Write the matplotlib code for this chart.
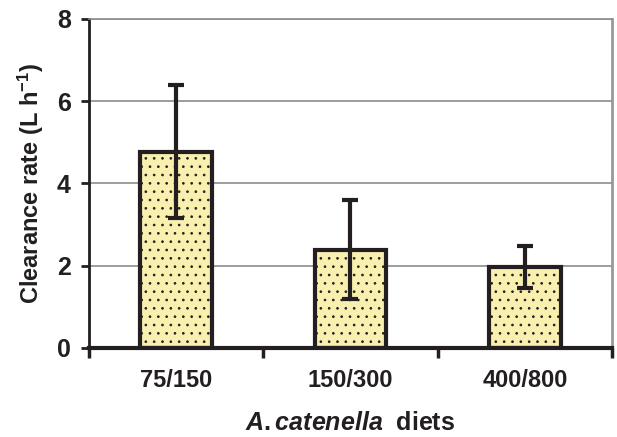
import matplotlib
matplotlib.use('Agg')
import matplotlib.pyplot as plt

categories = ['75/150', '150/300', '400/800']
clearance = [4.77, 2.39, 1.97]
errors = [1.61, 1.21, 0.51]
y_ticks = [0, 2, 4, 6, 8]

plt.rcParams['font.family'] = ['Liberation Sans', 'DejaVu Sans']
plt.rcParams['mathtext.fontset'] = 'custom'
plt.rcParams['mathtext.rm'] = 'Liberation Sans:bold'
plt.rcParams['mathtext.it'] = 'Liberation Sans:italic:bold'
plt.rcParams['mathtext.bf'] = 'Liberation Sans:bold'
plt.rcParams['hatch.color'] = '#9a9a88'
plt.rcParams['hatch.linewidth'] = 0.7

dark = '#231f20'
fig = plt.figure(figsize=(6.17, 4.37), dpi=100)
ax = fig.add_axes([0.144, 0.204, 0.848, 0.753])

x = list(range(len(categories)))
ax.bar(x, clearance, width=0.41, color='#f9f0b0', edgecolor=dark, linewidth=3,
       hatch='..', zorder=3)
ax.errorbar(x, clearance, yerr=errors, fmt='none', ecolor=dark, elinewidth=3,
            capsize=5.8, capthick=3, zorder=4)

ax.set_xlim(-0.5, 2.5)
ax.set_ylim(0, 8)
ax.set_yticks(y_ticks)
ax.set_yticklabels([str(v) for v in y_ticks], fontsize=18, fontweight='bold', color=dark)
for v in y_ticks[1:]:
    ax.axhline(v, color='#8c8c8c', linewidth=1.2, zorder=1)

ax.set_xticks([-0.5, 0.5, 1.5, 2.5])
ax.set_xticklabels([])
ax.set_xticks(x, minor=True)
ax.set_xticklabels(categories, minor=True, fontsize=17, fontweight='bold', color=dark)
ax.tick_params(axis='x', which='major', direction='out', length=7, width=2.5, color=dark)
ax.tick_params(axis='x', which='minor', length=0, pad=15)
ax.tick_params(axis='y', direction='out', length=6, width=2, color=dark, pad=7)

ax.spines['left'].set_color(dark)
ax.spines['left'].set_linewidth(2)
ax.spines['bottom'].set_color(dark)
ax.spines['bottom'].set_linewidth(3)
ax.spines['bottom'].set_zorder(5)
ax.spines['top'].set_color('#8c8c8c')
ax.spines['top'].set_linewidth(1.2)
ax.spines['right'].set_color('#999999')
ax.spines['right'].set_linewidth(2)

ax.set_ylabel('Clearance rate (L h$^{-1}$)', fontsize=17, fontweight='bold',
              color=dark, labelpad=8)
ax.set_xlabel(r'$\mathit{A.catenella}$  diets', fontsize=18, fontweight='bold',
              color=dark, labelpad=14)

fig.savefig('out.png', dpi=100)
